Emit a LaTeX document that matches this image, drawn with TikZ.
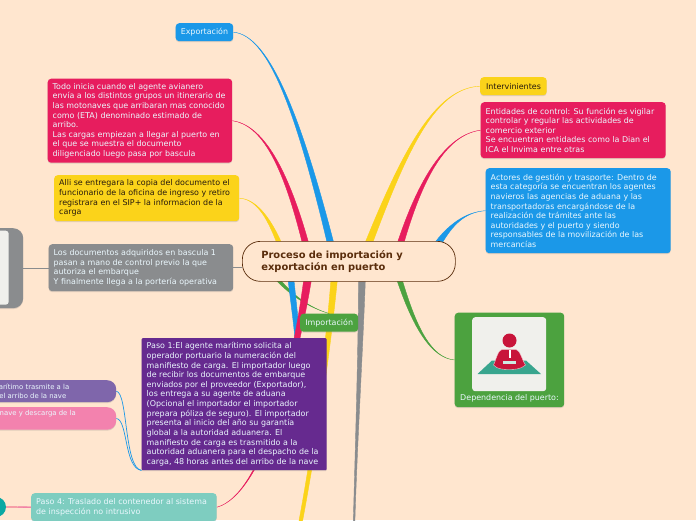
\documentclass[tikz,border=0pt]{standalone}
\usepackage{fontspec}
\setmainfont{DejaVu Sans}
\usetikzlibrary{calc,shadows}
\definecolor{bgc}{HTML}{FFE6CF}
\definecolor{cblue}{HTML}{1B98E8}
\definecolor{cred}{HTML}{E71D5E}
\definecolor{cyel}{HTML}{FBD31A}
\definecolor{cgray}{HTML}{8A8C8E}
\definecolor{cgreen}{HTML}{4CA23F}
\definecolor{cpurple}{HTML}{662A8F}
\definecolor{clilac}{HTML}{7F66AB}
\definecolor{cpink}{HTML}{F382AE}
\definecolor{cmint}{HTML}{7ECDC0}
\definecolor{cteal}{HTML}{0AA8A3}
\definecolor{cbrown}{HTML}{5A2D0C}
\definecolor{cpaper}{HTML}{F0F0EC}
\definecolor{cicon}{HTML}{C8143A}
\definecolor{cicont}{HTML}{38A58E}
\pgfdeclarelayer{under}
\pgfsetlayers{under,main}
\newcommand{\taper}[7]{%
  \path[fill=#1,draw=#1,line width=.4pt]
    ($#2+(#3,0)$) .. controls ($#4+(.6*#3+.4*#7,0)$) and ($#5+(#7,0)$) .. ($#6+(#7,0)$)
    -- ($#6-(#7,0)$) .. controls ($#5-(#7,0)$) and ($#4-(.6*#3+.4*#7,0)$) .. ($#2-(#3,0)$) -- cycle;}
\tikzset{
  x=1pt,y=-1pt,
  tbox/.style n args={3}{anchor=north west,rectangle,rounded corners=3.5pt,fill=#1,
    minimum width=#2 pt,minimum height=#3 pt,inner xsep=5pt,inner ysep=0pt,
    text width=#2 pt-10pt,align=flush left,
    font=\fontsize{7.95}{9.62}\selectfont,
    drop shadow={shadow xshift=0pt,shadow yshift=-1pt,opacity=.25}},
  wtext/.style={text=white!92!cyan},
  dtext/.style={text=black!80!brown},
  pill/.style n args={3}{anchor=north west,rectangle,rounded corners=9pt,fill=#1,
    minimum width=#2 pt,minimum height=#3 pt,inner sep=0pt,
    drop shadow={shadow xshift=0pt,shadow yshift=-1pt,opacity=.25}},
  smalltext/.style={inner sep=0pt,text=white!92!cyan,font=\fontsize{6.9}{8.8}\selectfont},
  thin connector/.style={line width=.7pt,cblue}
}
\begin{document}
\begin{tikzpicture}
\useasboundingbox (0,0) rectangle (696,520);
\begin{pgfonlayer}{under}
\fill[bgc] (0,0) rectangle (696,520);
\end{pgfonlayer}

% nodes
\node[tbox={cblue}{57.5}{18},wtext,align=center] (exp) at (175.5,23) {Exportación};
\node[tbox={cred}{184.5}{84},wtext] (redl) at (47.5,78.5) {Todo inicia cuando el agente avianero\\envía a los distintos grupos un itinerario de\\las motonaves que arribaran mas conocido\\como (ETA) denominado estimado de\\arribo.\\Las cargas empiezan a llegar al puerto en\\el que se muestra el documento\\diligenciado luego pasa por bascula};
\node[tbox={cyel}{185}{46},dtext] (yell) at (54,175) {Alli se entregara la copia del documento el\\funcionario de la oficina de ingreso y retiro\\registrara en el SIP+ la informacion de la\\carga};
\node[tbox={cgray}{184.5}{47},wtext] (gray) at (48.5,244) {Los documentos adquiridos en bascula 1\\pasan a mano de control previo la que\\autoriza el embarque\\Y finalmente llega a la portería operativa};
\node[anchor=north west,rectangle,rounded corners=10pt,fill=cgray,minimum width=60pt,minimum height=80pt,inner sep=0pt,
  drop shadow={shadow xshift=0pt,shadow yshift=-1pt,opacity=.25}] (imgbox) at (-37,228) {};
\node[anchor=north west,rectangle,rounded corners=3pt,fill=cpaper,minimum width=40pt,minimum height=74pt,inner sep=0pt] (imgpaper) at (-31.5,230.5) {};
\node[tbox={cyel}{66.5}{18},dtext,align=center] (interv) at (480,77) {Intervinientes};
\node[tbox={cred}{185}{56},wtext] (redr) at (480.5,102) {Entidades de control: Su función es vigilar\\controlar y regular las actividades de\\comercio exterior\\Se encuentran entidades como la Dian el\\ICA el Invima entre otras};
\node[tbox={cblue}{185}{85},wtext] (bluer) at (485.5,168) {Actores de gestión y trasporte: Dentro de\\esta categoría se encuentran los agentes\\navieros las agencias de aduana y las\\transportadoras encargándose de la\\realización de trámites ante las\\autoridades y el puerto y siendo\\responsables de la movilización de las\\mercancías};
\node[tbox={cgreen}{58}{18},wtext,align=center] (imp) at (300,313.5) {Importación};
\node[tbox={cgreen}{109.5}{94.5},wtext] (dep) at (454.5,312.5) {};
\node[anchor=north west,rectangle,rounded corners=3pt,fill=cpaper,minimum width=74pt,minimum height=74pt,inner sep=0pt] (depimg) at (472,317) {};
\node[text=white!92!cyan,inner sep=0pt,font=\fontsize{7.95}{9.6}\selectfont] (deptxt) at (509.5,398) {Dependencia del puerto:};
\node[tbox={cpurple}{185}{132},wtext,rounded corners=1pt] (pur) at (141.5,338) {Paso 1:El agente marítimo solicita al\\operador portuario la numeración del\\manifiesto de carga. El importador luego\\de recibir los documentos de embarque\\enviados por el proveedor (Exportador),\\los entrega a su agente de aduana\\(Opcional el importador el importador\\prepara póliza de seguro). El importador\\presenta al inicio del año su garantía\\global a la autoridad aduanera. El\\manifiesto de carga es trasmitido a la\\autoridad aduanera para el despacho de la\\carga, 48 horas antes del arribo de la nave};
\node[pill={clilac}{156}{22}] (pill1) at (-40,380) {};
\node[pill={cpink}{156}{22.5}] (pill2) at (-40,407) {};
\node[smalltext,anchor=east] (p1a) at (69.5,386.5) {arítimo trasmite a la};
\node[smalltext,anchor=east] (p1b) at (66.5,395.5) {el arribo de la nave};
\node[smalltext,anchor=east] (p2a) at (76,413.5) {nave y descarga de la};
\node[tbox={cmint}{185.5}{28},wtext] (paso4) at (31,493) {Paso 4: Traslado del contenedor al sistema\\de inspección no intrusivo};
\node[circle,fill=cteal,minimum size=20pt,inner sep=0pt] (circ) at (-4,507) {};
\node[draw=cbrown,line width=.7pt,fill=bgc,rectangle,rounded corners=18pt,anchor=north west,
  minimum width=213pt,minimum height=40pt,inner xsep=19pt,inner ysep=0pt,text width=175pt,align=left,
  text=cbrown,font=\bfseries\fontsize{9.9}{12}\selectfont] (root) at (242,241) {Proceso de importación y\\exportación en puerto};

% picture inside the card: the person on the mat
\fill[cicont] (477.5,374) -- (492,360.5) -- (526,360.5) -- (541,374) -- cycle;
\fill[cicon,draw=white!75!cicon,line width=.4pt] (502,349.5) -- (516,349.5) .. controls (520,350) and (522,360) .. (525.5,365)
  .. controls (521,369.5) and (513,369.5) .. (509,369.5) .. controls (505,369.5) and (497,369.5) .. (493.5,365)
  .. controls (496,360) and (498,350) .. (502,349.5) -- cycle;
\fill[white!75!cicont] (503,361) rectangle (516,364);
\fill[white] (508.5,349.5) rectangle (510.5,358);
\fill[cicon] (509.5,340.5) circle (7);

% connectors
\begin{pgfonlayer}{under}
\coordinate (r1) at (331,245);
\coordinate (r2) at (306,245);
\coordinate (r3) at (280,245);
\coordinate (r4) at (368,245);
\coordinate (r5) at (400,245);
\coordinate (r6) at (437,245);
\coordinate (r7) at (398,275);
\coordinate (r8) at (362,275);
\coordinate (r9) at (335,270);
\coordinate (r10) at (274,275);
\coordinate (r11) at (290,270);
\coordinate (r12) at (309,270);
\coordinate (bot1) at (354,525);
\coordinate (bot2) at (300,525);
\coordinate (purtop) at (298,345);
\taper{cblue}{(r1)}{3.3}{(300,120)}{(270,35)}{(exp.east)}{0}
\taper{cred}{(r2)}{3.2}{(285,165)}{(262,125)}{(redl.east)}{0}
\taper{cyel}{(r3)}{2.5}{(268,215)}{(255,199)}{(yell.east)}{0}
\taper{cyel}{(r4)}{3.8}{(405,150)}{(435,88)}{(interv.west)}{0}
\taper{cred}{(r5)}{3.3}{(420,180)}{(445,135)}{(redr.west)}{0}
\taper{cblue}{(r6)}{4}{(450,225)}{(465,212)}{(bluer.west)}{0}
\taper{cgreen}{(r7)}{2.8}{(415,330)}{(432,358)}{(dep.west)}{0}
\taper{cgray}{(r8)}{3.5}{(361,340)}{(356,450)}{(bot1)}{.8}
\taper{cyel}{(r9)}{3.3}{(330,330)}{(318,430)}{(bot2)}{1.8}
\taper{cgreen}{(r10)}{2.6}{(290,295)}{(310,308)}{(imp.north)}{0}
\taper{cblue}{(r11)}{3}{(293,300)}{(296,320)}{(purtop)}{2.5}
\taper{cred}{(r12)}{4}{(295,370)}{(262,495)}{(paso4.east)}{0}
\draw[cgray,line width=.9pt] (imgbox.east) -- (gray.west |- imgbox.east);
\draw[cgray,line width=.9pt] (gray.east) -- (gray.east -| root.west);
\draw[thin connector] (pill1.east) .. controls (128,393) and (124,468) .. (pur.south west);
\draw[thin connector] (pill2.east) .. controls (128,420) and (124,468) .. (pur.south west);
\draw[cred,line width=.7pt] (circ.east) -- (paso4.west);
\draw[cred!55!white,line width=1.3pt] (18,507) -- (paso4.west);
\end{pgfonlayer}
\end{tikzpicture}
\end{document}
